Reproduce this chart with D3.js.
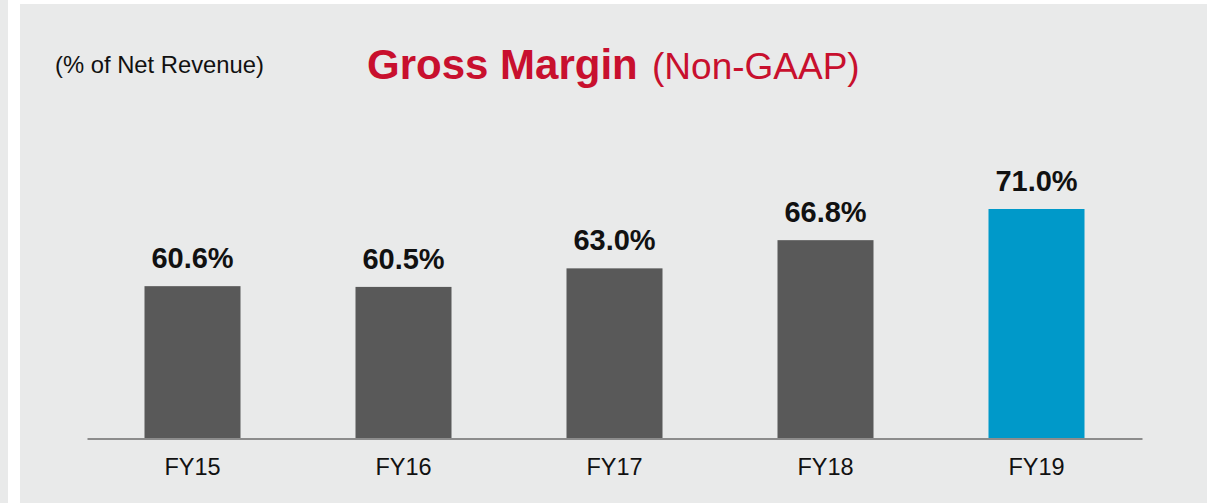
<!DOCTYPE html>
<html>
<head>
<meta charset="utf-8">
<script src="https://cdn.jsdelivr.net/npm/d3@7"></script>
<style>
  html, body { margin: 0; padding: 0; background: #ffffff; }
  svg { display: block; }
  text { font-family: "Liberation Sans", Arial, sans-serif; }
</style>
</head>
<body>
<div id="chart"></div>
<script>
const categories = ["FY15", "FY16", "FY17", "FY18", "FY19"];
const values = [60.6, 60.5, 63.0, 66.8, 71.0];
const valueLabels = ["60.6%", "60.5%", "63.0%", "66.8%", "71.0%"];
const highlight = ["FY19"];

const W = 1215, H = 503;
const svg = d3.select("#chart").append("svg").attr("width", W).attr("height", H);

// background
svg.append("rect").attr("x", 0).attr("y", 0).attr("width", W).attr("height", H).attr("fill", "#ffffff");
svg.append("rect").attr("x", 0).attr("y", 0).attr("width", 8).attr("height", H).attr("fill", "#e9eaea");
svg.append("rect").attr("x", 20).attr("y", 4).attr("width", 1187).attr("height", H - 4).attr("fill", "#e9eaea");

const x = d3.scaleBand().domain(categories).range([87, 1142]).paddingInner(0.545).paddingOuter(0.2725);
const y = d3.scaleLinear().domain([40, 71]).range([439, 209]);

// bars
svg.selectAll("rect.bar").data(categories).join("rect")
  .attr("class", "bar")
  .attr("x", d => x(d))
  .attr("width", x.bandwidth())
  .attr("y", (d, i) => y(values[i]))
  .attr("height", (d, i) => y(40) - y(values[i]))
  .attr("fill", d => highlight.includes(d) ? "#0099c9" : "#595959");

// axis
const axis = svg.append("g").attr("transform", "translate(0,438.5)")
  .call(d3.axisBottom(x).tickSize(0).tickPadding(0));
axis.select(".domain").attr("stroke", "#8c8c8c").attr("stroke-width", 2);
axis.selectAll(".tick text").remove();

// category labels
svg.selectAll("text.cat").data(categories).join("text")
  .attr("class", "cat")
  .attr("x", d => x(d) + x.bandwidth() / 2)
  .attr("y", 475)
  .attr("text-anchor", "middle")
  .attr("font-size", "23.5px")
  .attr("fill", "#111111")
  .text(d => d);

// value labels
svg.selectAll("text.val").data(categories).join("text")
  .attr("class", "val")
  .attr("x", d => x(d) + x.bandwidth() / 2)
  .attr("y", (d, i) => y(values[i]) - 18)
  .attr("text-anchor", "middle")
  .attr("font-size", "29px")
  .attr("font-weight", "bold")
  .attr("fill", "#111111")
  .text((d, i) => valueLabels[i]);

// subtitle
svg.append("text").attr("x", 55).attr("y", 73)
  .attr("font-size", "23.8px").attr("fill", "#111111")
  .text("(% of Net Revenue)");

// title
const t = svg.append("text").attr("x", 367).attr("y", 79).attr("fill", "#c8102e");
t.append("tspan").attr("font-size", "42px").attr("font-weight", "bold").text("Gross Margin");
t.append("tspan").attr("font-size", "37px").attr("dx", 4).text(" (Non-GAAP)");
</script>
</body>
</html>
